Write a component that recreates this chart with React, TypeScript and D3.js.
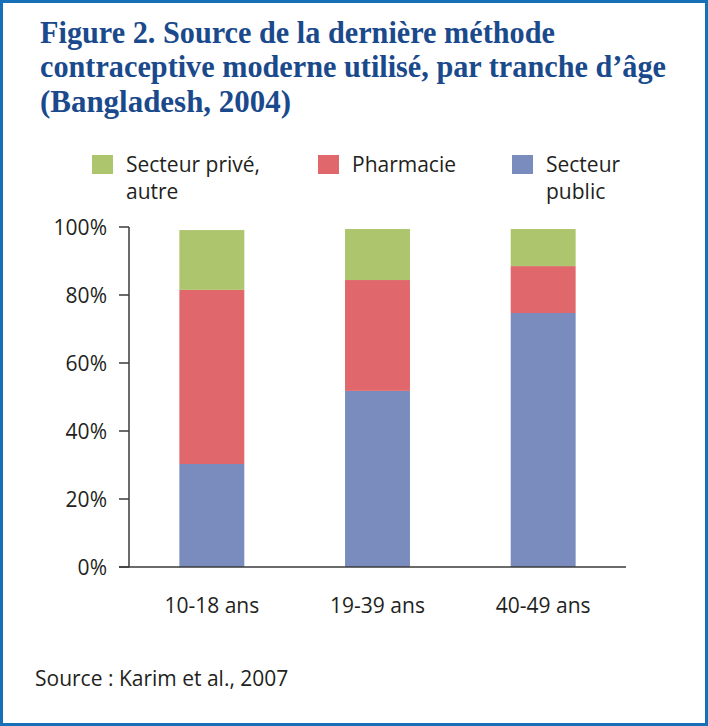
import React from 'react';
import * as d3 from 'd3';

const categories = ['10-18 ans', '19-39 ans', '40-49 ans'];
const secteurPublic = [30.3, 51.8, 74.7];
const pharmacie = [51.2, 32.6, 13.8];
const secteurPrive = [17.6, 15.0, 10.9];
const yTicks = [0, 20, 40, 60, 80, 100];

const titleLines = [
  'Figure 2. Source de la dernière méthode',
  'contraceptive moderne utilisé, par tranche d\u2019âge',
  '(Bangladesh, 2004)',
];

const series = [
  { key: 'public', color: '#7a8cbd' },
  { key: 'pharmacie', color: '#e0676b' },
  { key: 'prive', color: '#adc56c' },
];

const legend = [
  { key: 'prive', color: '#adc56c', lines: ['Secteur privé,', 'autre'], x: 92 },
  { key: 'pharmacie', color: '#e0676b', lines: ['Pharmacie'], x: 318 },
  { key: 'public', color: '#7a8cbd', lines: ['Secteur', 'public'], x: 512 },
];

const W = 708;
const H = 726;
const font = '"Open Sans", sans-serif';
const textColor = '#231f20';

const App = () => {
  const rows = categories.map((c, i) => ({
    cat: c,
    public: secteurPublic[i],
    pharmacie: pharmacie[i],
    prive: secteurPrive[i],
  }));

  const stacked = d3.stack<any>().keys(series.map(s => s.key))(rows);

  const x = d3
    .scaleBand()
    .domain(categories)
    .range([129, 626])
    .paddingInner(0.608)
    .paddingOuter(0.304);

  const y = d3.scaleLinear().domain([0, 100]).range([567, 227]);

  const titleWidths = [515, 626, 251];

  return (
    <div style={{ position: 'absolute', left: 0, top: 0 }}>
      <svg width={W} height={H} style={{ display: 'block' }}>
        <rect x={0} y={0} width={W} height={H} fill="#fff" />
        <rect x={1.5} y={1.5} width={W - 3} height={H - 3} fill="none" stroke="#1670b8" strokeWidth={3} />

        {titleLines.map((t, i) => (
          <text
            key={i}
            x={40}
            y={42.5 + i * 34.5}
            fontFamily='"Liberation Serif", serif'
            fontWeight="bold"
            fontSize={31}
            fill="#1a4a8c"
            textLength={titleWidths[i]}
            lengthAdjust="spacingAndGlyphs"
          >
            {t}
          </text>
        ))}

        {legend.map(l => (
          <g key={l.key}>
            <rect x={l.x} y={155} width={21} height={19} fill={l.color} />
            {l.lines.map((ln, j) => (
              <text key={j} x={l.x + 34} y={172 + j * 27} fontFamily={font} fontSize={21} fill={textColor}>
                {ln}
              </text>
            ))}
          </g>
        ))}

        {stacked.map((s, si) => (
          <g key={s.key} fill={series[si].color}>
            {s.map((d, i) => (
              <rect
                key={i}
                x={x(categories[i])}
                y={y(d[1])}
                width={x.bandwidth()}
                height={y(d[0]) - y(d[1])}
              />
            ))}
          </g>
        ))}

        <g stroke="#3a3a3a" strokeWidth={1.5}>
          <line x1={129} x2={129} y1={y(100)} y2={y(0)} />
          <line x1={119} x2={626} y1={y(0)} y2={y(0)} />
          {yTicks.map(t => (
            <line key={t} x1={119} x2={129} y1={y(t)} y2={y(t)} />
          ))}
        </g>

        {yTicks.map(t => (
          <text
            key={t}
            x={107}
            y={y(t)}
            dy="0.36em"
            textAnchor="end"
            fontFamily={font}
            fontSize={21}
            fill={textColor}
          >
            {t}%
          </text>
        ))}

        {categories.map(c => (
          <text
            key={c}
            x={(x(c) as number) + x.bandwidth() / 2}
            y={613}
            textAnchor="middle"
            fontFamily={font}
            fontSize={21}
            fill={textColor}
          >
            {c}
          </text>
        ))}

        <text x={35} y={686} fontFamily={font} fontSize={21} fill={textColor}>
          Source : Karim et al., 2007
        </text>
      </svg>
    </div>
  );
};

export default App;
